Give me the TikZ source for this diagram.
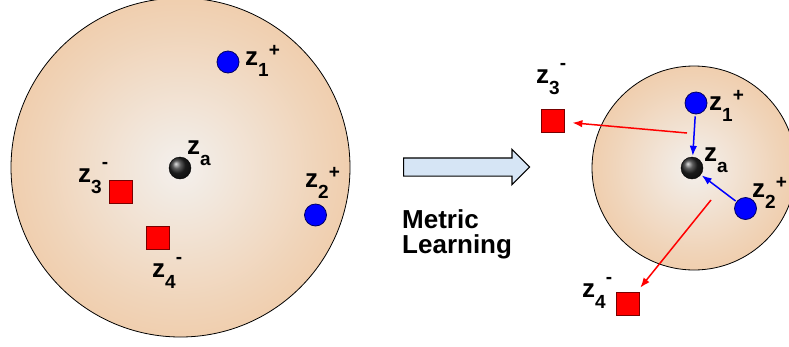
\documentclass[tikz,border=0pt]{standalone}
\usepackage{fontspec}
\setmainfont{Liberation Sans}
\usetikzlibrary{shapes.arrows,arrows.meta}

\definecolor{discedge}{RGB}{238,190,144}
\definecolor{disccentre}{RGB}{243,240,237}
\colorlet{discmid}{discedge!55!disccentre}
\colorlet{discout}{discedge!82!disccentre}
\definecolor{pushblue}{RGB}{214,229,245}
\definecolor{negedge}{RGB}{120,0,0}
\definecolor{posedge}{RGB}{0,0,100}
\pgfdeclareradialshading{disc}{\pgfpoint{0bp}{0bp}}{color(0bp)=(disccentre); color(20bp)=(discmid); color(31bp)=(discout); color(50bp)=(discedge)}

% labels: z with subscript and superscript side by side
\newcommand{\zsmall}{\fontsize{19}{19}\selectfont}
\newcommand{\zpos}[1]{z\raisebox{-11.5pt}{\zsmall #1}\raisebox{9pt}{\zsmall +}}
\newcommand{\zneg}[1]{z\raisebox{-11.5pt}{\zsmall #1}\raisebox{14pt}{\zsmall -}}
\newcommand{\zanc}{z\raisebox{-11pt}{\zsmall a}}

\tikzset{
  posdot/.style={circle, draw=posedge, fill=blue, minimum size=22pt, inner sep=0pt, line width=0.8pt},
  negbox/.style={rectangle, draw=negedge, fill=red, minimum size=23pt, inner sep=0pt, line width=0.8pt},
  ancdot/.style={circle, draw=black, shading=ball, ball color=black!85, minimum size=22pt, inner sep=0pt},
  zlabel/.style={anchor=base west, inner sep=0pt, font=\fontsize{26}{26}\selectfont\bfseries},
  pull/.style={blue, line width=1.5pt, -{Latex[length=10pt,width=7.5pt]}},
  push/.style={red, line width=1.5pt, -{Latex[length=10pt,width=7.5pt]}}
}

\begin{document}
\begin{tikzpicture}[x=1pt,y=-1pt]
  \useasboundingbox (0,0) rectangle (789,346);
  % before
  \draw[shading=disc, line width=0.8pt] (180.5,167.5) circle[radius=169.5pt];
  \node[posdot] (l1) at (228,62) {};
  \node[posdot] (l2) at (315.5,215) {};
  \node[negbox] (l3) at (120.5,191.5) {};
  \node[negbox] (l4) at (158,238) {};
  \node[ancdot] (la) at (180,168) {};
  \node[zlabel] at (245,65) {\zpos{1}};
  \node[zlabel] at (305,187) {\zpos{2}};
  \node[zlabel] at (78,182) {\zneg{3}};
  \node[zlabel] at (152,277) {\zneg{4}};
  \node[zlabel] at (187,154) {\zanc};
  % transformation
  \node[single arrow, draw, fill=pushblue, line width=1.2pt, inner xsep=0pt, inner ysep=8.5pt,
        minimum height=126pt, single arrow head extend=8.5pt,
        anchor=tail] (ml) at (403,167) {};
  \node[anchor=base west, align=left, inner sep=0pt,
        font=\fontsize{26}{25}\selectfont\bfseries] (mltext) at (402,253) {Metric\\Learning};
  % after
  \draw[shading=disc, line width=0.8pt] (694,168) circle[radius=102pt];
  \node[posdot] (r1) at (696,103) {};
  \node[posdot] (r2) at (745.5,208.5) {};
  \node[negbox] (r3) at (552.5,121) {};
  \node[negbox] (r4) at (627.5,303.5) {};
  \node[ancdot] (ra) at (692,168) {};
  \node[zlabel] at (709,110) {\zpos{1}};
  \node[zlabel] at (752,197) {\zpos{2}};
  \node[zlabel] at (536,83) {\zneg{3}};
  \node[zlabel] at (582,297) {\zneg{4}};
  \node[zlabel] at (704,161) {\zanc};
  \coordinate (r3s) at (687,133);
  \coordinate (r4s) at (711,200);
  \draw[pull, shorten <=2pt, shorten >=1pt] (r1) -- (ra);
  \draw[pull, shorten <=1pt, shorten >=1pt] (r2) -- (ra);
  \draw[push, shorten >=8pt] (r3s) -- (r3);
  \draw[push, shorten >=5pt] (r4s) -- (r4);
\end{tikzpicture}
\end{document}
